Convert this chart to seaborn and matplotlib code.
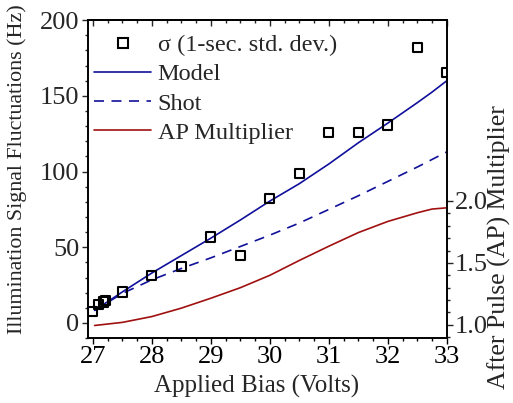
import matplotlib
matplotlib.use("Agg")
import matplotlib.pyplot as plt
import seaborn as sns
import pandas as pd
from matplotlib.ticker import MultipleLocator, FixedLocator
from matplotlib.lines import Line2D

sns.set_theme(style="white")
plt.rcParams['font.family'] = ['Liberation Serif', 'DejaVu Serif']
plt.rcParams['mathtext.fontset'] = 'stix'

# measured sigma (1-sec std dev)
bias_meas = [27.0, 27.1, 27.18, 27.22, 27.5, 28.0, 28.5, 29.0, 29.5, 30.0, 30.5, 31.0, 31.5, 32.0, 32.5, 33.0]
sigma_meas = [7.7, 12.0, 13.8, 15.0, 20.4, 31.5, 37.4, 56.7, 44.6, 82.0, 98.5, 125.8, 125.8, 130.8, 182.0, 165.3]

# model curves
bias_model = [27.03, 27.5, 28.0, 28.5, 29.0, 29.5, 30.0, 30.5, 31.0, 31.5, 32.0, 32.5, 32.75, 33.0]
model_vals = [8.3, 20.5, 33.0, 44.5, 56.0, 68.0, 80.5, 92.0, 105.0, 119.0, 132.0, 145.5, 152.5, 160.0]
shot_vals = [8.3, 19.5, 28.5, 36.0, 43.0, 50.5, 58.0, 66.0, 75.0, 84.0, 93.5, 103.0, 108.0, 113.0]
ap_mult = [0.995, 1.02, 1.067, 1.135, 1.215, 1.30, 1.40, 1.52, 1.635, 1.745, 1.835, 1.905, 1.935, 1.945]

meas_df = pd.DataFrame({"bias": bias_meas, "sigma": sigma_meas})
model_df = pd.DataFrame({"bias": bias_model, "model": model_vals, "shot": shot_vals, "ap": ap_mult})

navy = '#10109a'
dred = '#a01010'
FS_TICK = 19
FS_LAB = 18
FS_LEG = 17.5

fig = plt.figure(figsize=(5.13, 4.03), dpi=100)
ax = fig.add_axes([0.1706, 0.161, 0.7004, 0.789])

sns.lineplot(data=model_df, x="bias", y="model", ax=ax, color=navy, lw=1.2, label="_m")
sns.lineplot(data=model_df, x="bias", y="shot", ax=ax, color=navy, lw=1.2, dashes=False,
             label="_s", linestyle=(0, (6, 4.5)))
sns.scatterplot(data=meas_df, x="bias", y="sigma", ax=ax, marker='s', s=45,
                facecolor='none', edgecolor='black', linewidth=1.5, label="_d", zorder=5)

ax.set_xlim(26.91, 33.0)
ax.set_ylim(-10, 200)
ax.xaxis.set_major_locator(MultipleLocator(1))
ax.xaxis.set_minor_locator(MultipleLocator(0.25))
ax.yaxis.set_major_locator(MultipleLocator(50))
ax.yaxis.set_minor_locator(MultipleLocator(10))
ax.tick_params(axis='x', which='both', bottom=True, top=False, direction='out', labelsize=FS_TICK, colors='black', pad=2)
ax.tick_params(axis='x', which='major', length=4, width=1)
ax.tick_params(axis='x', which='minor', length=2.5, width=1)
ax.tick_params(axis='y', which='both', left=True, right=False, direction='out', labelsize=FS_TICK, pad=2)
ax.tick_params(axis='y', which='major', length=4, width=1)
ax.tick_params(axis='y', which='minor', length=2.5, width=1)
ax.set_xlabel("Applied Bias (Volts)", fontsize=FS_LAB)
ax.set_ylabel("Illumination Signal Fluctuations (Hz)", fontsize=15.8)
ax.yaxis.set_label_coords(-0.168, 0.53)
ax.xaxis.set_label_coords(0.47, -0.115)
for sp in ax.spines.values():
    sp.set_color('black')
    sp.set_linewidth(1.2)

ax2 = ax.twinx()
sns.lineplot(data=model_df, x="bias", y="ap", ax=ax2, color=dred, lw=1.2, label="_ap")
ax2.set_ylim(0.893, 3.46)
ax2.yaxis.set_major_locator(FixedLocator([1.0, 1.5, 2.0]))
ax2.yaxis.set_minor_locator(FixedLocator([0.9 + 0.1 * i for i in range(12)]))
ax2.set_yticklabels(["1.0", "1.5", "2.0"])
ax2.tick_params(axis='y', which='both', right=True, direction='out', labelsize=FS_TICK, pad=2)
ax2.tick_params(axis='y', which='major', length=4, width=1)
ax2.tick_params(axis='y', which='minor', length=2.5, width=1)
ax2.set_ylabel("After Pulse (AP) Multiplier", fontsize=18.5)
ax2.yaxis.set_label_coords(1.114, 0.285)
ax2.set_xlabel("")
for sp in ax2.spines.values():
    sp.set_color('black')
    sp.set_linewidth(1.2)

# top ticks inward
sec = ax.secondary_xaxis('top')
sec.xaxis.set_major_locator(MultipleLocator(1))
sec.xaxis.set_minor_locator(MultipleLocator(0.25))
sec.tick_params(axis='x', which='both', direction='in', labeltop=False)
sec.tick_params(axis='x', which='major', length=4, width=1)
sec.tick_params(axis='x', which='minor', length=2.5, width=1)

handles = [
    Line2D([], [], marker='s', ls='none', mfc='none', mec='black', mew=1.5, ms=7),
    Line2D([], [], color=navy, lw=1.2),
    Line2D([], [], color=navy, lw=1.2, linestyle=(0, (6, 4.5))),
    Line2D([], [], color=dred, lw=1.2),
]
labels = ["σ (1-sec. std. dev.)", "Model", "Shot", "AP Multiplier"]
ax.legend(handles, labels, loc='upper left', bbox_to_anchor=(-0.008, 0.987),
          frameon=False, fontsize=FS_LEG,
          handlelength=2.35, handletextpad=0.25, labelspacing=0.3,
          borderaxespad=0.15, borderpad=0.25)

fig.savefig("out.png", dpi=100)
